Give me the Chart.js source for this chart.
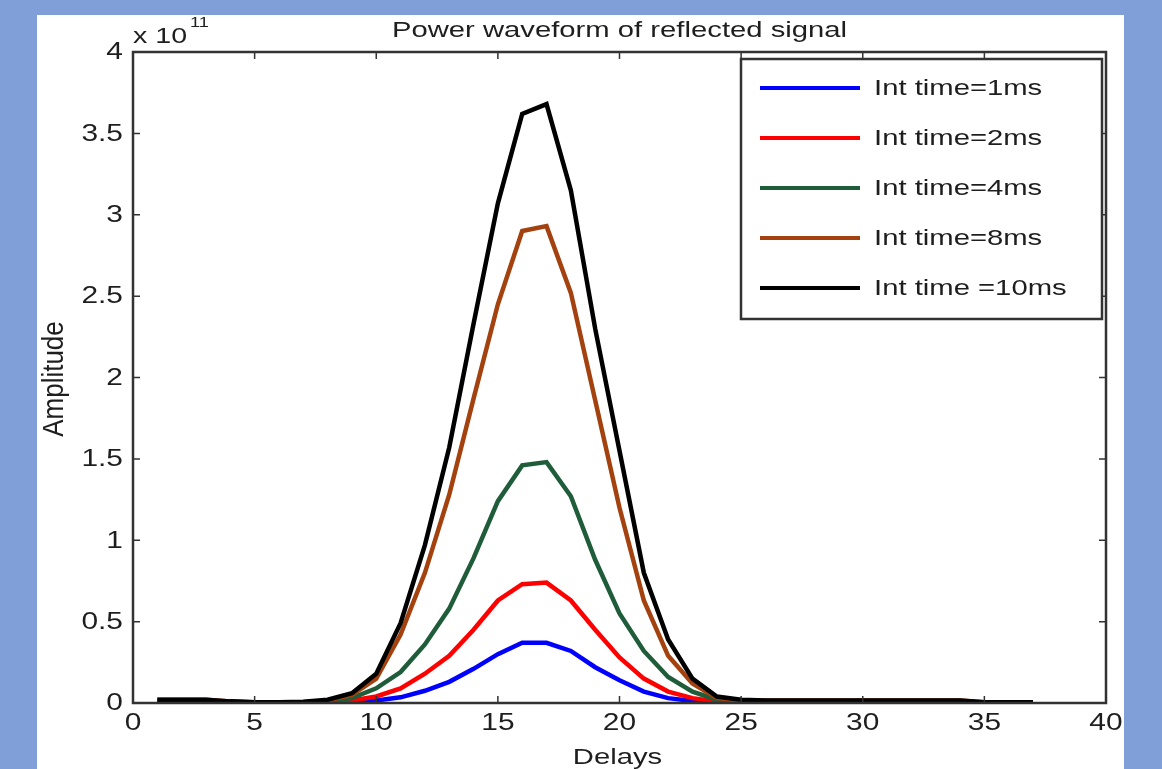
<!DOCTYPE html>
<html lang="en">
<head>
  <meta charset="UTF-8">
  <title>Power waveform of reflected signal</title>
  <style>
    html, body { margin: 0; padding: 0; background: #809fd8; }
    .canvas_box { width: 1162px; height: 769px; }
  </style>
  <script src="https://cdn.jsdelivr.net/npm/chart.js@4.4.6/dist/chart.umd.min.js"></script>
</head>
<body>
<div class="canvas_box">
  <canvas id="myChart" width="1162" height="769"></canvas>
</div>
<script>
// delays 1..37, amplitudes in units of 1e11
var delays = [];
for (var d = 1; d <= 37; d++) delays.push(d);

var amp1ms = [0.002, 0.002, 0.002, 0.002, 0.002, 0.002, 0.002, 0.002, 0.006, 0.015,
              0.035, 0.075, 0.13, 0.21, 0.30, 0.37, 0.37, 0.32, 0.22, 0.14,
              0.07, 0.03, 0.012, 0.004, 0.002, 0.002, 0.002, 0.002, 0.002, 0.002,
              0.002, 0.002, 0.002, 0.002, 0.002, 0.002, 0.002];
var amp2ms = [0.005, 0.005, 0.005, 0.002, 0.002, 0.002, 0.002, 0.004, 0.015, 0.04,
              0.09, 0.18, 0.29, 0.45, 0.63, 0.73, 0.74, 0.63, 0.45, 0.28,
              0.15, 0.07, 0.03, 0.01, 0.003, 0.003, 0.003, 0.003, 0.003, 0.003,
              0.003, 0.003, 0.003, 0.003, 0.003, 0.003, 0.003];
var amp4ms = [0.01, 0.01, 0.01, 0.003, 0.003, 0.003, 0.003, 0.008, 0.03, 0.09,
              0.19, 0.36, 0.58, 0.89, 1.24, 1.46, 1.48, 1.27, 0.88, 0.55,
              0.32, 0.16, 0.07, 0.02, 0.008, 0.008, 0.008, 0.008, 0.008, 0.008,
              0.008, 0.008, 0.008, 0.008, 0.003, 0.003, 0.003];
var amp8ms = [0.02, 0.02, 0.02, 0.01, 0.005, 0.005, 0.005, 0.015, 0.05, 0.15,
              0.42, 0.80, 1.28, 1.87, 2.45, 2.90, 2.93, 2.52, 1.86, 1.20,
              0.63, 0.29, 0.12, 0.03, 0.015, 0.015, 0.015, 0.015, 0.015, 0.015,
              0.015, 0.015, 0.015, 0.015, 0.005, 0.005, 0.005];
var amp10ms = [0.02, 0.02, 0.02, 0.01, 0.005, 0.005, 0.008, 0.02, 0.06, 0.18,
               0.49, 0.97, 1.57, 2.33, 3.07, 3.62, 3.68, 3.15, 2.30, 1.55,
               0.80, 0.39, 0.15, 0.04, 0.02, 0.015, 0.015, 0.015, 0.015, 0.015,
               0.015, 0.015, 0.015, 0.015, 0.005, 0.005, 0.005];

var seriesLabels = ['Int time=1ms', 'Int time=2ms', 'Int time=4ms', 'Int time=8ms', 'Int time =10ms'];
var seriesColors = ['#0000ff', '#ff0000', '#1f5c3a', '#a3420f', '#000000'];
var seriesValues = [amp1ms, amp2ms, amp4ms, amp8ms, amp10ms];

var xTickValues = [0, 5, 10, 15, 20, 25, 30, 35, 40];
var xTickLabels = ['0', '5', '10', '15', '20', '25', '30', '35', '40'];
var yTickValues = [0, 0.5, 1, 1.5, 2, 2.5, 3, 3.5, 4];
var yTickLabels = ['0', '0.5', '1', '1.5', '2', '2.5', '3', '3.5', '4'];

var SX = 1.3;   // the picture is stretched sideways
var FONT = '"Liberation Sans", Arial, sans-serif';
var INK = '#1e1e1e';
var AXIS = '#333';

function sText(ctx, str, x, y, align, size, baseline) {
  ctx.save();
  ctx.font = size + 'px ' + FONT;
  ctx.fillStyle = INK;
  ctx.textAlign = align;
  ctx.textBaseline = baseline || 'alphabetic';
  ctx.translate(x, y);
  ctx.scale(SX, 1);
  ctx.fillText(str, 0, 0);
  ctx.restore();
}

var matlabLook = {
  id: 'matlabLook',
  beforeDraw: function(chart) {
    var ctx = chart.ctx;
    ctx.save();
    ctx.fillStyle = '#809fd8';
    ctx.fillRect(0, 0, chart.width, chart.height);
    ctx.fillStyle = '#ffffff';
    ctx.fillRect(37, 15, 1124 - 37, chart.height - 15);
    ctx.restore();
  },
  afterDraw: function(chart) {
    var ctx = chart.ctx;
    var a = chart.chartArea;
    var xs = chart.scales.x, ys = chart.scales.y;

    // box
    ctx.save();
    ctx.strokeStyle = AXIS;
    ctx.lineWidth = 2.5;
    ctx.strokeRect(a.left, a.top, a.right - a.left, a.bottom - a.top);

    // inward ticks
    ctx.lineWidth = 1.5;
    ctx.beginPath();
    xs.ticks.forEach(function(t) {
      var px = xs.getPixelForValue(t.value);
      ctx.moveTo(px, a.bottom); ctx.lineTo(px, a.bottom - 7);
      ctx.moveTo(px, a.top); ctx.lineTo(px, a.top + 7);
    });
    ys.ticks.forEach(function(t) {
      var py = ys.getPixelForValue(t.value);
      ctx.moveTo(a.left, py); ctx.lineTo(a.left + 7, py);
      ctx.moveTo(a.right, py); ctx.lineTo(a.right - 7, py);
    });
    ctx.stroke();
    ctx.restore();

    // tick labels
    xs.ticks.forEach(function(t, i) {
      sText(ctx, xTickLabels[i], xs.getPixelForValue(t.value), a.bottom + 21, 'center', 23, 'middle');
    });
    ys.ticks.forEach(function(t, i) {
      sText(ctx, yTickLabels[i], a.left - 10, ys.getPixelForValue(t.value) + 1, 'right', 23, 'middle');
    });

    // exponent
    sText(ctx, 'x 10', a.left, 43, 'left', 22);
    sText(ctx, '11', a.left + 57, 27, 'left', 14);

    // title and axis titles
    sText(ctx, 'Power waveform of reflected signal', (a.left + a.right) / 2, 37, 'center', 22.5);
    sText(ctx, 'Delays', (a.left + a.right) / 2 - 2, 764, 'center', 22.5);

    ctx.save();
    ctx.font = '22px ' + FONT;
    ctx.fillStyle = INK;
    ctx.textAlign = 'center';
    ctx.textBaseline = 'middle';
    ctx.translate(55, 379);
    ctx.rotate(-Math.PI / 2);
    ctx.scale(1.18, 1.3);
    ctx.fillText('Amplitude', 0, 0);
    ctx.restore();

    // legend
    var lx = 741, ly = 59, lw = 1102 - 741, lh = 319 - 59;
    ctx.save();
    ctx.fillStyle = '#ffffff';
    ctx.fillRect(lx, ly, lw, lh);
    ctx.strokeStyle = AXIS;
    ctx.lineWidth = 2.5;
    ctx.strokeRect(lx, ly, lw, lh);
    chart.data.datasets.forEach(function(ds, i) {
      var yy = ly + 29 + i * 50;
      ctx.strokeStyle = ds.borderColor;
      ctx.lineWidth = 4;
      ctx.beginPath();
      ctx.moveTo(760, yy);
      ctx.lineTo(860, yy);
      ctx.stroke();
      sText(ctx, ds.label, 874, yy + 1, 'left', 22.5, 'middle');
    });
    ctx.restore();
  }
};

var ctx = document.getElementById('myChart');
var myChart = new Chart(ctx, {
  type: 'line',
  data: {
    datasets: seriesValues.map(function(vals, i) {
      return {
        label: seriesLabels[i],
        data: vals.map(function(v, j) { return { x: delays[j], y: v }; }),
        borderColor: seriesColors[i],
        backgroundColor: seriesColors[i],
        borderWidth: 4.5,
        pointRadius: 0,
        tension: 0,
        fill: false,
        order: seriesValues.length - i
      };
    })
  },
  options: {
    responsive: false,
    animation: false,
    devicePixelRatio: 1,
    layout: {
      padding: { left: 0, right: 56, top: 52, bottom: 0 }
    },
    plugins: {
      legend: { display: false },
      title: { display: false },
      tooltip: { enabled: false }
    },
    scales: {
      x: {
        type: 'linear',
        min: 0,
        max: 40,
        grid: { display: false },
        border: { display: false },
        ticks: { display: false },
        afterBuildTicks: function(scale) {
          scale.ticks = xTickValues.map(function(v) { return { value: v }; });
        },
        afterFit: function(scale) { scale.height = 66; }
      },
      y: {
        type: 'linear',
        min: 0,
        max: 4,
        grid: { display: false },
        border: { display: false },
        ticks: { display: false },
        afterBuildTicks: function(scale) {
          scale.ticks = yTickValues.map(function(v) { return { value: v }; });
        },
        afterFit: function(scale) { scale.width = 133; }
      }
    }
  },
  plugins: [matlabLook]
});
</script>
</body>
</html>
